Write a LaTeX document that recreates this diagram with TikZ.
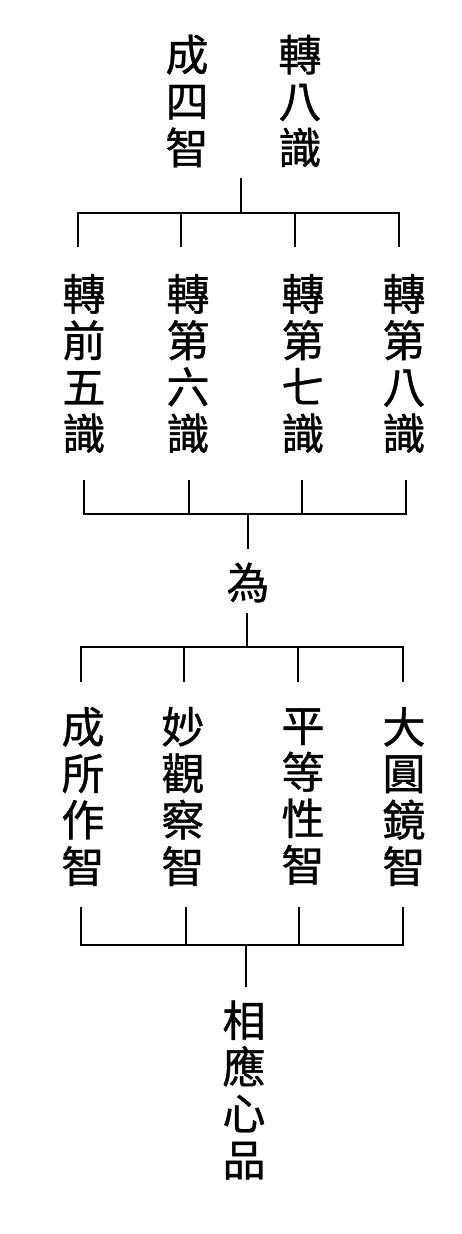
\documentclass[tikz,border=0pt]{standalone}
\usepackage{fontspec}
\newfontfamily\cjk[FakeBold=0.9]{Noto Sans CJK TC}
\begin{document}
\begin{tikzpicture}[x=1pt,y=-1pt,
  cjkcol/.style={font=\cjk\fontsize{43}{46.5}\selectfont, align=center, inner sep=0pt},
  conn/.style={line width=1.3pt, black}]
\useasboundingbox (0,0) rectangle (462,1234);
% top
\node[cjkcol] (top1) at (187,101) {成\\四\\智};
\node[cjkcol] (top2) at (300,101) {轉\\八\\識};
% row 2
\node[cjkcol] (s1) at (84,363.5) {轉\\前\\五\\識};
\node[cjkcol] (s2) at (188,363.5) {轉\\第\\六\\識};
\node[cjkcol] (s3) at (303,363.5) {轉\\第\\七\\識};
\node[cjkcol] (s4) at (404,363.5) {轉\\第\\八\\識};
% middle
\node[cjkcol] (wei) at (248,582.5) {為};
% row 3
\node[cjkcol] (w1) at (83,796.5) {成\\所\\作\\智};
\node[cjkcol] (w2) at (183,796.5) {妙\\觀\\察\\智};
\node[cjkcol] (w3) at (303,796.5) {平\\等\\性\\智};
\node[cjkcol] (w4) at (404,796.5) {大\\圓\\鏡\\智};
% bottom
\node[cjkcol] (xy) at (244,1090) {相\\應\\心\\品};
% bracket 1
\coordinate (t0) at (241,178);
\coordinate (t1) at (241,213);
\coordinate (a1) at (78,247);
\coordinate (a2) at (181,247);
\coordinate (a3) at (295,247);
\coordinate (a4) at (399,247);
\draw[conn] (t0) -- (t1);
\draw[conn] (a1) -- (a1|-t1) -- (a4|-t1) -- (a4);
\draw[conn] (a2) -- (a2|-t1);
\draw[conn] (a3) -- (a3|-t1);
% bracket 2
\coordinate (b1) at (84,480);
\coordinate (b2) at (189,480);
\coordinate (b3) at (302,480);
\coordinate (b4) at (406,480);
\coordinate (m1) at (248,514);
\coordinate (m0) at (248,549);
\draw[conn] (b1) -- (b1|-m1) -- (b4|-m1) -- (b4);
\draw[conn] (b2) -- (b2|-m1);
\draw[conn] (b3) -- (b3|-m1);
\draw[conn] (m1) -- (m0);
% bracket 3
\coordinate (n0) at (247,613);
\coordinate (n1) at (247,647);
\coordinate (c1) at (81,682);
\coordinate (c2) at (184,682);
\coordinate (c3) at (298,682);
\coordinate (c4) at (403,682);
\draw[conn] (n0) -- (n1);
\draw[conn] (c1) -- (c1|-n1) -- (c4|-n1) -- (c4);
\draw[conn] (c2) -- (c2|-n1);
\draw[conn] (c3) -- (c3|-n1);
% bracket 4
\coordinate (e1) at (81,907);
\coordinate (e2) at (186,907);
\coordinate (e3) at (299,907);
\coordinate (e4) at (403,907);
\coordinate (f1) at (246,945);
\coordinate (f0) at (246,987);
\draw[conn] (e1) -- (e1|-f1) -- (e4|-f1) -- (e4);
\draw[conn] (e2) -- (e2|-f1);
\draw[conn] (e3) -- (e3|-f1);
\draw[conn] (f1) -- (f0);
\end{tikzpicture}
\end{document}
